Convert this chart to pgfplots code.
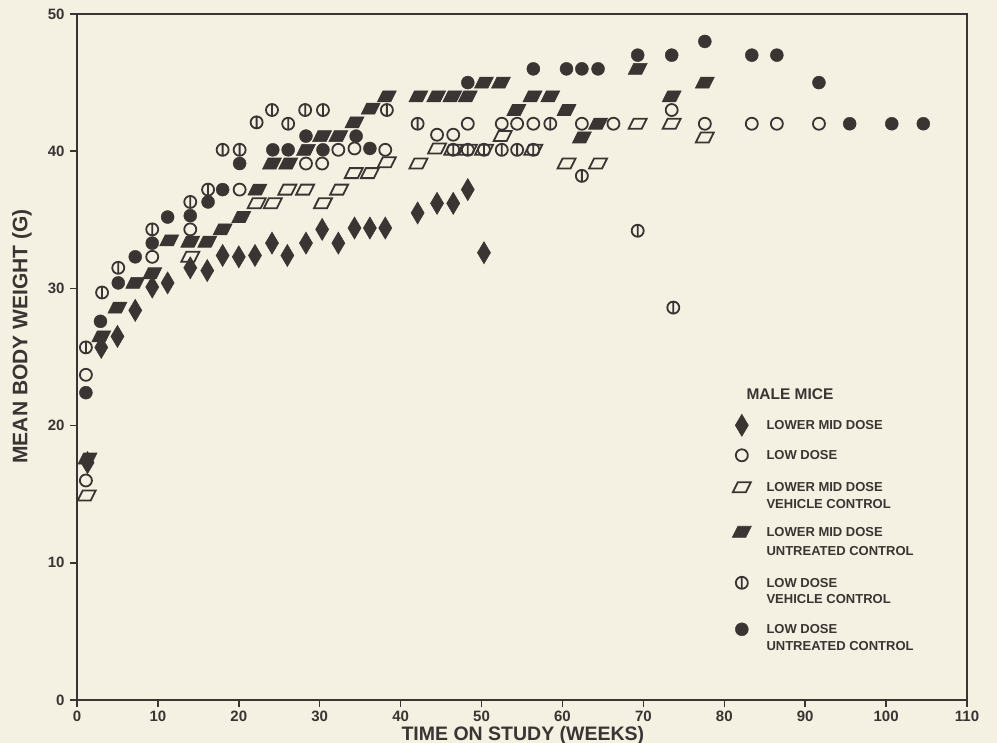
\documentclass[border=0pt]{standalone}
\usepackage{fontspec}
\setmainfont{Liberation Sans}
\usepackage{pgfplots}
\pgfplotsset{compat=1.18}
\definecolor{bg}{HTML}{F4F1E2}
\definecolor{ink}{HTML}{3A3433}

\pgfdeclareplotmark{mdia}{%
  \pgfpathmoveto{\pgfqpoint{0pt}{11pt}}%
  \pgfpathlineto{\pgfqpoint{6.5pt}{0pt}}%
  \pgfpathlineto{\pgfqpoint{0pt}{-11pt}}%
  \pgfpathlineto{\pgfqpoint{-6.5pt}{0pt}}%
  \pgfpathclose\pgfusepathqfillstroke}
\pgfdeclareplotmark{opar}{%
  \pgfpathmoveto{\pgfqpoint{-9pt}{-5pt}}%
  \pgfpathlineto{\pgfqpoint{4pt}{-5pt}}%
  \pgfpathlineto{\pgfqpoint{9pt}{5pt}}%
  \pgfpathlineto{\pgfqpoint{-4pt}{5pt}}%
  \pgfpathclose\pgfusepathqstroke}
\pgfdeclareplotmark{fpar}{%
  \pgfpathmoveto{\pgfqpoint{-9.5pt}{-5.5pt}}%
  \pgfpathlineto{\pgfqpoint{4pt}{-5.5pt}}%
  \pgfpathlineto{\pgfqpoint{9.5pt}{5.5pt}}%
  \pgfpathlineto{\pgfqpoint{-4pt}{5.5pt}}%
  \pgfpathclose\pgfusepathqfillstroke}
\pgfdeclareplotmark{cbar}{%
  \pgfpathcircle{\pgfpointorigin}{6pt}%
  \pgfpathmoveto{\pgfqpoint{0pt}{-6pt}}%
  \pgfpathlineto{\pgfqpoint{0pt}{6pt}}%
  \pgfusepathqstroke}

\pgfplotstableread{
x y
1.3 17.3
3 25.7
5 26.5
7.2 28.4
9.3 30.1
11.2 30.4
14 31.5
16.1 31.3
18 32.4
20 32.3
22 32.4
24.1 33.3
26 32.4
28.3 33.3
30.3 34.3
32.3 33.3
34.3 34.4
36.2 34.4
38.1 34.4
42.1 35.5
44.5 36.2
46.5 36.2
48.3 37.2
50.3 32.6
}\lmd
\pgfplotstableread{
x y
1.2 14.9
14 32.3
22.2 36.2
24.2 36.2
26 37.2
28.2 37.2
30.4 36.2
32.4 37.2
34.2 38.4
36.2 38.4
38.3 39.2
42.2 39.1
44.5 40.2
46.5 40.1
48.3 40.1
50.3 40.1
52.6 41.1
56.4 40.1
60.5 39.1
64.4 39.1
69.3 42
73.5 42
77.6 41
}\lmdveh
\pgfplotstableread{
x y
1.3 17.6
3 26.5
5 28.6
7.2 30.4
9.3 31.1
11.4 33.5
14 33.4
16.1 33.4
18 34.3
20.3 35.2
22.3 37.2
24.1 39.1
26.1 39.1
28.3 40.1
30.3 41.1
32.3 41.1
34.3 42.1
36.3 43.1
38.3 44
42.2 44
44.4 44
46.4 44
48.3 44
50.3 45
52.4 45
54.3 43
56.3 44
58.5 44
60.5 43
62.4 41
64.4 42
69.3 46
73.5 44
77.6 45
}\lmdunt
\pgfplotstableread{
x y
1.1 23.7
1.1 16.0
9.3 32.3
14 34.3
20.1 37.2
28.3 39.1
30.3 39.1
32.3 40.1
34.3 40.2
38.1 40.1
44.5 41.2
46.5 41.2
48.3 42
52.5 42
54.4 42
56.4 42
62.4 42
66.3 42
73.5 43
77.6 42
83.4 42
86.5 42
91.7 42
}\ld
\pgfplotstableread{
x y
1.1 25.7
3.1 29.7
5.1 31.5
9.3 34.3
14 36.3
16.2 37.2
18 40.1
20.1 40.1
22.2 42.1
24.1 43
26.1 42
28.2 43
30.4 43
38.3 43
42.1 42
46.5 40.1
48.3 40.1
50.3 40.1
52.5 40.1
54.4 40.1
56.4 40.1
58.5 42
62.4 38.2
69.3 34.2
73.7 28.6
}\ldveh
\pgfplotstableread{
x y
1.1 22.4
2.9 27.6
5.1 30.4
7.2 32.3
9.3 33.3
11.2 35.2
14 35.3
16.2 36.3
18 37.2
20.1 39.1
24.2 40.1
26.1 40.1
28.3 41.1
30.4 40.1
34.5 41.1
36.2 40.2
48.3 45
56.4 46
60.5 46
62.4 46
64.4 46
69.3 47
73.5 47
77.6 48
83.4 47
86.5 47
91.7 45
95.5 42
100.7 42
104.6 42
}\ldunt

\begin{document}
\begin{tikzpicture}
\fill[bg] (0,0) rectangle (997pt,743pt);
\useasboundingbox (0,0) rectangle (997pt,743pt);
\begin{axis}[
  at={(77pt,43pt)}, anchor=south west,
  scale only axis, width=890pt, height=686pt,
  xmin=0, xmax=110, ymin=0, ymax=50,
  xtick={0,10,...,110}, ytick={0,10,...,50},
  xtick pos=bottom, ytick pos=left,
  tick align=outside, major tick length=7pt,
  axis line style={line width=1.8pt, draw=ink},
  every tick/.style={line width=1.5pt, draw=ink},
  /pgf/number format/assume math mode=true,
  ticklabel style={font=\bfseries\fontsize{15}{15}\selectfont, text=ink},
  xticklabel style={yshift=-0.5pt},
  yticklabel style={xshift=-2pt},
  xlabel={TIME ON STUDY (WEEKS)},
  ylabel={MEAN BODY WEIGHT (G)},
  every axis x label/.style={at={(axis description cs:0.501,-0.052)}, anchor=center,
     font=\bfseries\fontsize{19.5}{20}\selectfont, text=ink},
  every axis y label/.style={at={(axis description cs:-0.062,0.53)}, rotate=90, anchor=center,
     font=\bfseries\fontsize{21}{21}\selectfont, text=ink},
  legend style={at={(axis cs:80.6,23.2)}, anchor=north west, draw=none, fill=none,
    font=\bfseries\fontsize{13}{17}\selectfont, text=ink,
    row sep=0pt, column sep=15.2pt,
    nodes={inner sep=0pt, anchor=base west}},
  legend image code/.code={\draw[#1] plot coordinates {(0pt,4.6pt)};},
  clip=false,
]
\addlegendimage{empty legend}
\addlegendentry[text height=16pt, text depth=7pt]{\hspace*{-20pt}\fontsize{15.5}{17}\selectfont MALE MICE}
\addplot[only marks, mark=mdia, ink, fill=ink, line width=0.6pt] table {\lmd};
\addlegendentry[text height=23pt, text depth=7pt]{LOWER MID DOSE}
\addplot[only marks, mark=o, mark size=6pt, ink, line width=1.8pt] table {\ld};
\addlegendentry[text height=23pt, text depth=7pt]{LOW DOSE}
\addplot[only marks, mark=opar, ink, line width=1.8pt] table {\lmdveh};
\addlegendentry[text height=25pt, text depth=7pt]{LOWER MID DOSE}
\addlegendimage{empty legend}
\addlegendentry[text height=9.5pt, text depth=7pt]{VEHICLE CONTROL}
\addplot[only marks, mark=fpar, ink, fill=ink, line width=0.6pt] table {\lmdunt};
\addlegendentry[text height=21pt, text depth=7pt]{LOWER MID DOSE}
\addlegendimage{empty legend}
\addlegendentry[text height=12pt, text depth=7pt]{UNTREATED CONTROL}
\addplot[only marks, mark=cbar, ink, line width=1.8pt] table {\ldveh};
\addlegendentry[text height=25pt, text depth=7pt]{LOW DOSE}
\addlegendimage{empty legend}
\addlegendentry[text height=9.5pt, text depth=7pt]{VEHICLE CONTROL}
\addplot[only marks, mark=*, mark size=6.5pt, ink, fill=ink, line width=0.4pt] table {\ldunt};
\addlegendentry[text height=23pt, text depth=7pt]{LOW DOSE}
\addlegendimage{empty legend}
\addlegendentry[text height=10pt, text depth=7pt]{UNTREATED CONTROL}
\end{axis}
\end{tikzpicture}
\end{document}
